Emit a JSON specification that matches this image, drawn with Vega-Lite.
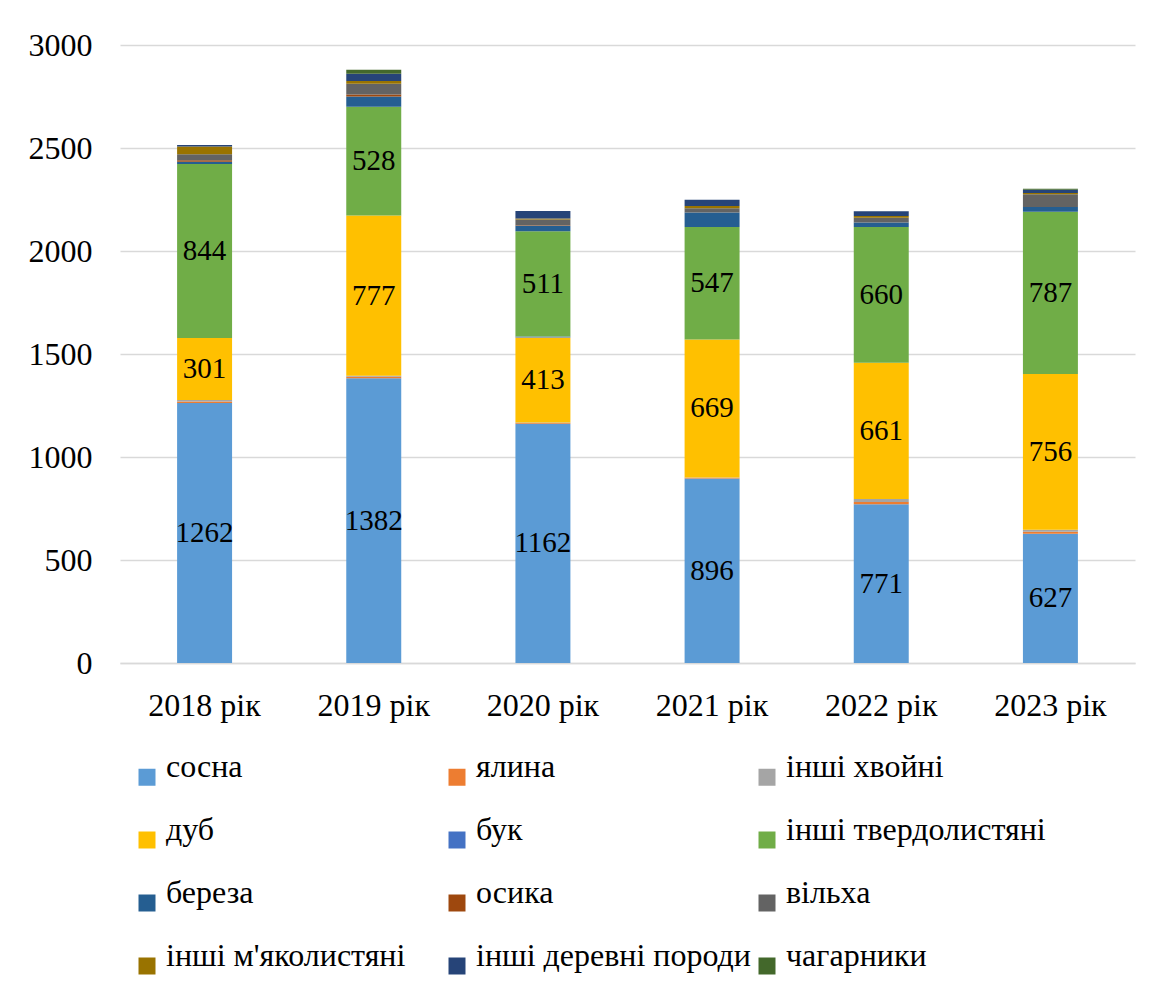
{
  "$schema": "https://vega.github.io/schema/vega-lite/v6.json",
  "width": 1015,
  "height": 618,
  "autosize": "none",
  "padding": {"left": 120, "top": 45, "right": 24, "bottom": 328},
  "background": "white",
  "config": {
    "view": {"stroke": null},
    "font": "Liberation Serif, DejaVu Serif, serif",
    "axis": {"labelFont": "Liberation Serif, DejaVu Serif, serif"},
    "legend": {"labelFont": "Liberation Serif, DejaVu Serif, serif"},
    "text": {"font": "Liberation Serif, DejaVu Serif, serif"}
  },
  "data": {
    "values": [
      {"year": "2018 рік", "species": "сосна", "rank": 1, "value": 1262},
      {"year": "2018 рік", "species": "ялина", "rank": 2, "value": 8},
      {"year": "2018 рік", "species": "інші хвойні", "rank": 3, "value": 7},
      {"year": "2018 рік", "species": "дуб", "rank": 4, "value": 301},
      {"year": "2018 рік", "species": "бук", "rank": 5, "value": 0},
      {"year": "2018 рік", "species": "інші твердолистяні", "rank": 6, "value": 844},
      {"year": "2018 рік", "species": "береза", "rank": 7, "value": 11},
      {"year": "2018 рік", "species": "осика", "rank": 8, "value": 8},
      {"year": "2018 рік", "species": "вільха", "rank": 9, "value": 29},
      {"year": "2018 рік", "species": "інші  м'яколистяні", "rank": 10, "value": 37},
      {"year": "2018 рік", "species": "інші деревні породи", "rank": 11, "value": 8},
      {"year": "2018 рік", "species": "чагарники", "rank": 12, "value": 0},

      {"year": "2019 рік", "species": "сосна", "rank": 1, "value": 1382},
      {"year": "2019 рік", "species": "ялина", "rank": 2, "value": 8},
      {"year": "2019 рік", "species": "інші хвойні", "rank": 3, "value": 5},
      {"year": "2019 рік", "species": "дуб", "rank": 4, "value": 777},
      {"year": "2019 рік", "species": "бук", "rank": 5, "value": 0},
      {"year": "2019 рік", "species": "інші твердолистяні", "rank": 6, "value": 528},
      {"year": "2019 рік", "species": "береза", "rank": 7, "value": 50},
      {"year": "2019 рік", "species": "осика", "rank": 8, "value": 10},
      {"year": "2019 рік", "species": "вільха", "rank": 9, "value": 52},
      {"year": "2019 рік", "species": "інші  м'яколистяні", "rank": 10, "value": 13},
      {"year": "2019 рік", "species": "інші деревні породи", "rank": 11, "value": 35},
      {"year": "2019 рік", "species": "чагарники", "rank": 12, "value": 20},

      {"year": "2020 рік", "species": "сосна", "rank": 1, "value": 1162},
      {"year": "2020 рік", "species": "ялина", "rank": 2, "value": 3},
      {"year": "2020 рік", "species": "інші хвойні", "rank": 3, "value": 2},
      {"year": "2020 рік", "species": "дуб", "rank": 4, "value": 413},
      {"year": "2020 рік", "species": "бук", "rank": 5, "value": 5},
      {"year": "2020 рік", "species": "інші твердолистяні", "rank": 6, "value": 511},
      {"year": "2020 рік", "species": "береза", "rank": 7, "value": 26},
      {"year": "2020 рік", "species": "осика", "rank": 8, "value": 3},
      {"year": "2020 рік", "species": "вільха", "rank": 9, "value": 28},
      {"year": "2020 рік", "species": "інші  м'яколистяні", "rank": 10, "value": 5},
      {"year": "2020 рік", "species": "інші деревні породи", "rank": 11, "value": 36},
      {"year": "2020 рік", "species": "чагарники", "rank": 12, "value": 0},

      {"year": "2021 рік", "species": "сосна", "rank": 1, "value": 896},
      {"year": "2021 рік", "species": "ялина", "rank": 2, "value": 3},
      {"year": "2021 рік", "species": "інші хвойні", "rank": 3, "value": 2},
      {"year": "2021 рік", "species": "дуб", "rank": 4, "value": 669},
      {"year": "2021 рік", "species": "бук", "rank": 5, "value": 0},
      {"year": "2021 рік", "species": "інші твердолистяні", "rank": 6, "value": 547},
      {"year": "2021 рік", "species": "береза", "rank": 7, "value": 70},
      {"year": "2021 рік", "species": "осика", "rank": 8, "value": 0},
      {"year": "2021 рік", "species": "вільха", "rank": 9, "value": 20},
      {"year": "2021 рік", "species": "інші  м'яколистяні", "rank": 10, "value": 11},
      {"year": "2021 рік", "species": "інші деревні породи", "rank": 11, "value": 31},
      {"year": "2021 рік", "species": "чагарники", "rank": 12, "value": 0},

      {"year": "2022 рік", "species": "сосна", "rank": 1, "value": 771},
      {"year": "2022 рік", "species": "ялина", "rank": 2, "value": 10},
      {"year": "2022 рік", "species": "інші хвойні", "rank": 3, "value": 15},
      {"year": "2022 рік", "species": "дуб", "rank": 4, "value": 661},
      {"year": "2022 рік", "species": "бук", "rank": 5, "value": 0},
      {"year": "2022 рік", "species": "інші твердолистяні", "rank": 6, "value": 660},
      {"year": "2022 рік", "species": "береза", "rank": 7, "value": 21},
      {"year": "2022 рік", "species": "осика", "rank": 8, "value": 0},
      {"year": "2022 рік", "species": "вільха", "rank": 9, "value": 24},
      {"year": "2022 рік", "species": "інші  м'яколистяні", "rank": 10, "value": 8},
      {"year": "2022 рік", "species": "інші деревні породи", "rank": 11, "value": 23},
      {"year": "2022 рік", "species": "чагарники", "rank": 12, "value": 0},

      {"year": "2023 рік", "species": "сосна", "rank": 1, "value": 627},
      {"year": "2023 рік", "species": "ялина", "rank": 2, "value": 10},
      {"year": "2023 рік", "species": "інші хвойні", "rank": 3, "value": 10},
      {"year": "2023 рік", "species": "дуб", "rank": 4, "value": 756},
      {"year": "2023 рік", "species": "бук", "rank": 5, "value": 0},
      {"year": "2023 рік", "species": "інші твердолистяні", "rank": 6, "value": 787},
      {"year": "2023 рік", "species": "береза", "rank": 7, "value": 24},
      {"year": "2023 рік", "species": "осика", "rank": 8, "value": 0},
      {"year": "2023 рік", "species": "вільха", "rank": 9, "value": 62},
      {"year": "2023 рік", "species": "інші  м'яколистяні", "rank": 10, "value": 5},
      {"year": "2023 рік", "species": "інші деревні породи", "rank": 11, "value": 16},
      {"year": "2023 рік", "species": "чагарники", "rank": 12, "value": 5}
    ]
  },
  "encoding": {
    "x": {
      "field": "year",
      "type": "nominal",
      "sort": null,
      "scale": {"paddingInner": 0.675, "paddingOuter": 0.3375},
      "axis": {
        "title": null,
        "labelAngle": 0,
        "labelFontSize": 32,
        "labelColor": "#000000",
        "labelPadding": 27,
        "domain": true,
        "domainColor": "#d9d9d9",
        "domainWidth": 1.5,
        "ticks": false
      }
    }
  },
  "layer": [
    {
      "mark": {"type": "bar"},
      "encoding": {
        "y": {
          "field": "value",
          "type": "quantitative",
          "stack": "zero",
          "scale": {"domain": [0, 3000]},
          "axis": {
            "title": null,
            "values": [0, 500, 1000, 1500, 2000, 2500, 3000],
            "format": "d",
            "labelFontSize": 32,
            "labelColor": "#000000",
            "labelPadding": 28,
            "domain": false,
            "ticks": false,
            "grid": true,
            "gridColor": "#d9d9d9",
            "gridWidth": 1.5
          }
        },
        "order": {"field": "rank", "type": "quantitative"},
        "color": {
          "field": "species",
          "type": "nominal",
          "sort": ["сосна", "ялина", "інші хвойні", "дуб", "бук", "інші твердолистяні", "береза", "осика", "вільха", "інші  м'яколистяні", "інші деревні породи", "чагарники"],
          "scale": {
            "domain": ["сосна", "ялина", "інші хвойні", "дуб", "бук", "інші твердолистяні", "береза", "осика", "вільха", "інші  м'яколистяні", "інші деревні породи", "чагарники"],
            "range": ["#5B9BD5", "#ED7D31", "#A5A5A5", "#FFC000", "#4472C4", "#70AD47", "#255E91", "#9E480E", "#636363", "#997300", "#264478", "#43682B"]
          },
          "legend": {
            "title": null,
            "orient": "none",
            "legendX": 11,
            "legendY": 716,
            "direction": "horizontal",
            "columns": 3,
            "gridAlign": "all",
            "columnPadding": 0,
            "rowPadding": 28,
            "symbolType": "square",
            "symbolSize": 289,
            "symbolStrokeWidth": 0,
            "labelFontSize": 32,
            "labelColor": "#000000",
            "labelOffset": 3,
            "labelBaseline": "alphabetic",
            "labelLimit": 400
          }
        }
      }
    },
    {
      "transform": [
        {"stack": "value", "groupby": ["year"], "sort": [{"field": "rank", "order": "ascending"}], "as": ["v0", "v1"]},
        {"filter": "datum.species === 'сосна' || datum.species === 'дуб' || datum.species === 'інші твердолистяні'"},
        {"calculate": "(datum.v0 + datum.v1) / 2", "as": "mid"}
      ],
      "mark": {"type": "text", "fontSize": 29, "color": "#000000", "baseline": "middle"},
      "encoding": {
        "y": {"field": "mid", "type": "quantitative"},
        "text": {"field": "value", "type": "quantitative"}
      }
    }
  ]
}
